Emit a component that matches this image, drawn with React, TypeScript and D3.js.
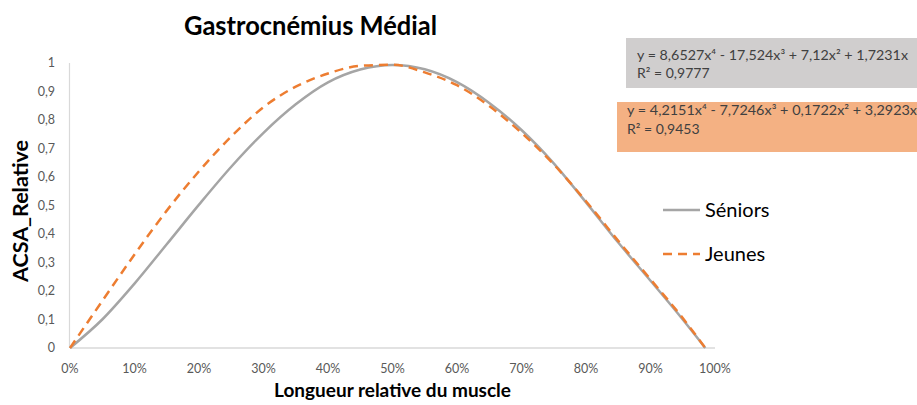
import React from "react";
import * as d3 from "d3";

// ---- data ----
const xPositions = [0, 0.05, 0.1, 0.15, 0.2, 0.25, 0.3, 0.35, 0.4, 0.45, 0.5, 0.55, 0.6, 0.65, 0.7, 0.75, 0.8, 0.85, 0.9, 0.95, 0.985];
const seniors = [0, 0.1, 0.226, 0.364, 0.503, 0.636, 0.755, 0.855, 0.932, 0.977, 0.993, 0.978, 0.933, 0.86, 0.765, 0.648, 0.511, 0.37, 0.236, 0.1, 0];
const jeunes = [0, 0.165, 0.328, 0.482, 0.62, 0.742, 0.845, 0.917, 0.963, 0.99, 0.994, 0.967, 0.922, 0.849, 0.755, 0.644, 0.515, 0.376, 0.241, 0.105, 0];
const yTicks = [0, 0.1, 0.2, 0.3, 0.4, 0.5, 0.6, 0.7, 0.8, 0.9, 1];
const yTickLabels = ["0", "0,1", "0,2", "0,3", "0,4", "0,5", "0,6", "0,7", "0,8", "0,9", "1"];
const xTicks = [0, 0.1, 0.2, 0.3, 0.4, 0.5, 0.6, 0.7, 0.8, 0.9, 1];
const xTickLabels = ["0%", "10%", "20%", "30%", "40%", "50%", "60%", "70%", "80%", "90%", "100%"];
const seriesNames = ["Séniors", "Jeunes"];
const equationSeniors = ["y = 8,6527x⁴ - 17,524x³ + 7,12x² + 1,7231x", "R² = 0,9777"];
const equationJeunes = ["y = 4,2151x⁴ - 7,7246x³ + 0,1722x² + 3,2923x", "R² = 0,9453"];
const title = "Gastrocnémius Médial";
const xTitle = "Longueur relative du muscle";
const yTitle = "ACSA_Relative";

const W = 917;
const H = 405;
const FONT = "Lato, 'Open Sans', sans-serif";

export default function App() {
  const x = d3.scaleLinear().domain([0, 1]).range([70, 715]);
  const y = d3.scaleLinear().domain([0, 1]).range([348, 63]);
  const line = d3
    .line<[number, number]>()
    .x((d) => x(d[0]))
    .y((d) => y(d[1]))
    .curve(d3.curveMonotoneX);
  const sPts: [number, number][] = xPositions.map((v, i) => [v, seniors[i]]);
  const jPts: [number, number][] = xPositions.map((v, i) => [v, jeunes[i]]);

  return (
    <svg width={W} height={H} style={{ position: "absolute", left: 0, top: 0, background: "#fff" }} fontFamily={FONT}>
      <rect x={0} y={0} width={W} height={H} fill="#fff" />
      {/* title */}
      <text x={184} y={35} fontSize={27} fontWeight={700} fill="#000" textLength={253} lengthAdjust="spacingAndGlyphs">{title}</text>

      {/* axes */}
      <line x1={x(0)} x2={x(1)} y1={y(0)} y2={y(0)} stroke="#D9D9D9" strokeWidth={1.5} />
      <line x1={x(0) - 0.5} x2={x(0) - 0.5} y1={y(0)} y2={y(1)} stroke="#D9D9D9" strokeWidth={1.2} />

      {yTicks.map((t, i) => (
        <text key={"y" + i} x={55} y={y(t)} dy="0.35em" textAnchor="end" fontSize={12.5} fill="#595959">
          {yTickLabels[i]}
        </text>
      ))}
      {xTicks.map((t, i) => (
        <text key={"x" + i} x={x(t)} y={373} textAnchor="middle" fontSize={12.5} fill="#595959">
          {xTickLabels[i]}
        </text>
      ))}

      <text x={(x(0) + x(1)) / 2} y={397} textAnchor="middle" fontSize={18} fontWeight={700} fill="#000" textLength={237} lengthAdjust="spacingAndGlyphs">
        {xTitle}
      </text>
      <text transform={`translate(28, 211) rotate(-90)`} textAnchor="middle" fontSize={21} fontWeight={700} fill="#000" textLength={142} lengthAdjust="spacingAndGlyphs">
        {yTitle}
      </text>

      {/* series */}
      <path d={line(sPts) || ""} fill="none" stroke="#A5A5A5" strokeWidth={2.5} strokeLinejoin="round" />
      <path d={line(jPts) || ""} fill="none" stroke="#ED7D31" strokeWidth={2.5} strokeDasharray="9,6" />

      {/* legend */}
      <line x1={663} x2={700} y1={210} y2={210} stroke="#A5A5A5" strokeWidth={2.5} />
      <text x={705} y={217} fontSize={20} fill="#000">{seriesNames[0]}</text>
      <line x1={663} x2={700} y1={254} y2={254} stroke="#ED7D31" strokeWidth={2.5} strokeDasharray="9,6" />
      <text x={705} y={261} fontSize={20} fill="#000">{seriesNames[1]}</text>

      {/* equation boxes */}
      <rect x={626} y={38} width={300} height={50} fill="#D0CECE" />
      <text x={637} y={60} fontSize={14} fill="#404040" textLength={271} lengthAdjust="spacingAndGlyphs">{equationSeniors[0]}</text>
      <text x={637} y={78} fontSize={14} fill="#404040">{equationSeniors[1]}</text>
      <rect x={617} y={102} width={310} height={50} fill="#F4B183" />
      <text x={627} y={115} fontSize={14} fill="#404040" textLength={290} lengthAdjust="spacingAndGlyphs">{equationJeunes[0]}</text>
      <text x={627} y={134} fontSize={14} fill="#404040">{equationJeunes[1]}</text>
    </svg>
  );
}
